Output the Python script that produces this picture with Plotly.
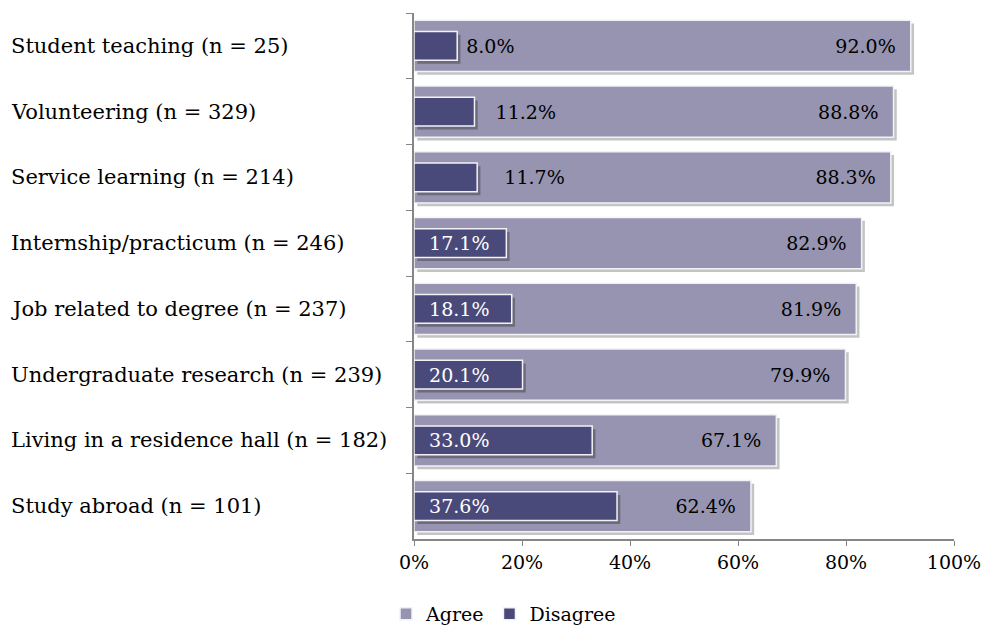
import plotly.graph_objects as go

categories = [
    "Student teaching (n = 25)",
    "Volunteering (n = 329)",
    "Service learning (n = 214)",
    "Internship/practicum (n = 246)",
    "Job related to degree (n = 237)",
    "Undergraduate research (n = 239)",
    "Living in a residence hall (n = 182)",
    "Study abroad (n = 101)",
]
agree = [92.0, 88.8, 88.3, 82.9, 81.9, 79.9, 67.1, 62.4]
disagree = [8.0, 11.2, 11.7, 17.1, 18.1, 20.1, 33.0, 37.6]

FONT = "DejaVu Serif"
AGREE_COLOR = "#9694b0"
DISAGREE_COLOR = "#4a4a7a"
NB = "\u00a0"

W, H = 982, 626
ML, MR, MT, MB = 414, 28, 13, 87
plot_w = W - ML - MR
plot_h = H - MT - MB

# small disagree shares are labelled beyond the bar end
dis_pos = ["outside" if v < 15 else "inside" for v in disagree]
outside_pad = [1, 3, 4]
dis_text = []
k = 0
for v, p in zip(disagree, dis_pos):
    if p == "outside":
        dis_text.append(NB * outside_pad[k] + f"{v:.1f}%")
        k += 1
    else:
        dis_text.append(NB * 2 + f"{v:.1f}%")
dis_color = ["#000000" if p == "outside" else "#ffffff" for p in dis_pos]
agree_text = [f"{v:.1f}%" + NB * 2 for v in agree]

AW, DW = 0.78, 0.44
shadow_dx = 0.6
shadow_dy = 0.05

fig = go.Figure()

# soft drop shadow under the agree bars
fig.add_trace(go.Bar(
    y=categories, x=agree, base=shadow_dx, orientation="h",
    width=AW, offset=-AW / 2 + shadow_dy,
    marker=dict(color="rgba(60,60,60,0.30)", line=dict(width=0)),
    showlegend=False, hoverinfo="skip",
))
fig.add_trace(go.Bar(
    y=categories, x=agree, orientation="h", name="Agree",
    width=AW, offset=-AW / 2,
    marker=dict(color=AGREE_COLOR, line=dict(color="#f2f2f6", width=1.5)),
    text=agree_text, textposition="inside", insidetextanchor="end",
    textfont=dict(family=FONT, size=19, color="#000000"),
    constraintext="none",
))
# drop shadow under the disagree bars
fig.add_trace(go.Bar(
    y=categories, x=disagree, base=shadow_dx, orientation="h",
    width=DW, offset=-DW / 2 + shadow_dy,
    marker=dict(color="rgba(40,40,40,0.38)", line=dict(width=0)),
    showlegend=False, hoverinfo="skip",
))
fig.add_trace(go.Bar(
    y=categories, x=disagree, orientation="h", name="Disagree",
    width=DW, offset=-DW / 2,
    marker=dict(color=DISAGREE_COLOR, line=dict(color="#f2f2f6", width=1.5)),
    text=dis_text, textposition=dis_pos, insidetextanchor="start",
    textfont=dict(family=FONT, size=19, color=dis_color),
    constraintext="none", cliponaxis=False,
))

# left-aligned category labels
for c in categories:
    fig.add_annotation(
        x=-(ML - 9) / plot_w, xref="paper", xanchor="left",
        y=c, yref="y", text=c, showarrow=False,
        font=dict(family=FONT, size=21, color="#000000"),
    )

fig.update_layout(
    width=W, height=H,
    margin=dict(l=ML, r=MR, t=MT, b=MB, autoexpand=False),
    barmode="overlay",
    paper_bgcolor="white", plot_bgcolor="white",
    font=dict(family=FONT, size=19, color="#000000"),
    legend=dict(
        orientation="h", x=-(ML - 386) / plot_w, xanchor="left",
        y=-56 / plot_h, yanchor="top", itemwidth=30,
        font=dict(family=FONT, size=19), traceorder="normal",
        itemclick=False, itemdoubleclick=False,
    ),
    xaxis=dict(
        range=[0, 100], tickvals=[0, 20, 40, 60, 80, 100],
        ticktext=["0%", "20%", "40%", "60%", "80%", "100%"],
        showgrid=False, zeroline=False,
        showline=True, linecolor="#868686", linewidth=1.5,
        ticks="outside", ticklen=5, tickcolor="#868686",
        tickfont=dict(family=FONT, size=19), fixedrange=True,
    ),
    yaxis=dict(
        categoryorder="array", categoryarray=categories,
        autorange="reversed", showticklabels=False,
        showgrid=False, zeroline=False,
        showline=True, linecolor="#868686", linewidth=1.5,
        ticks="outside", ticklen=6, tickcolor="#868686",
        tickson="boundaries", fixedrange=True,
    ),
)

fig.write_html("out.html")
